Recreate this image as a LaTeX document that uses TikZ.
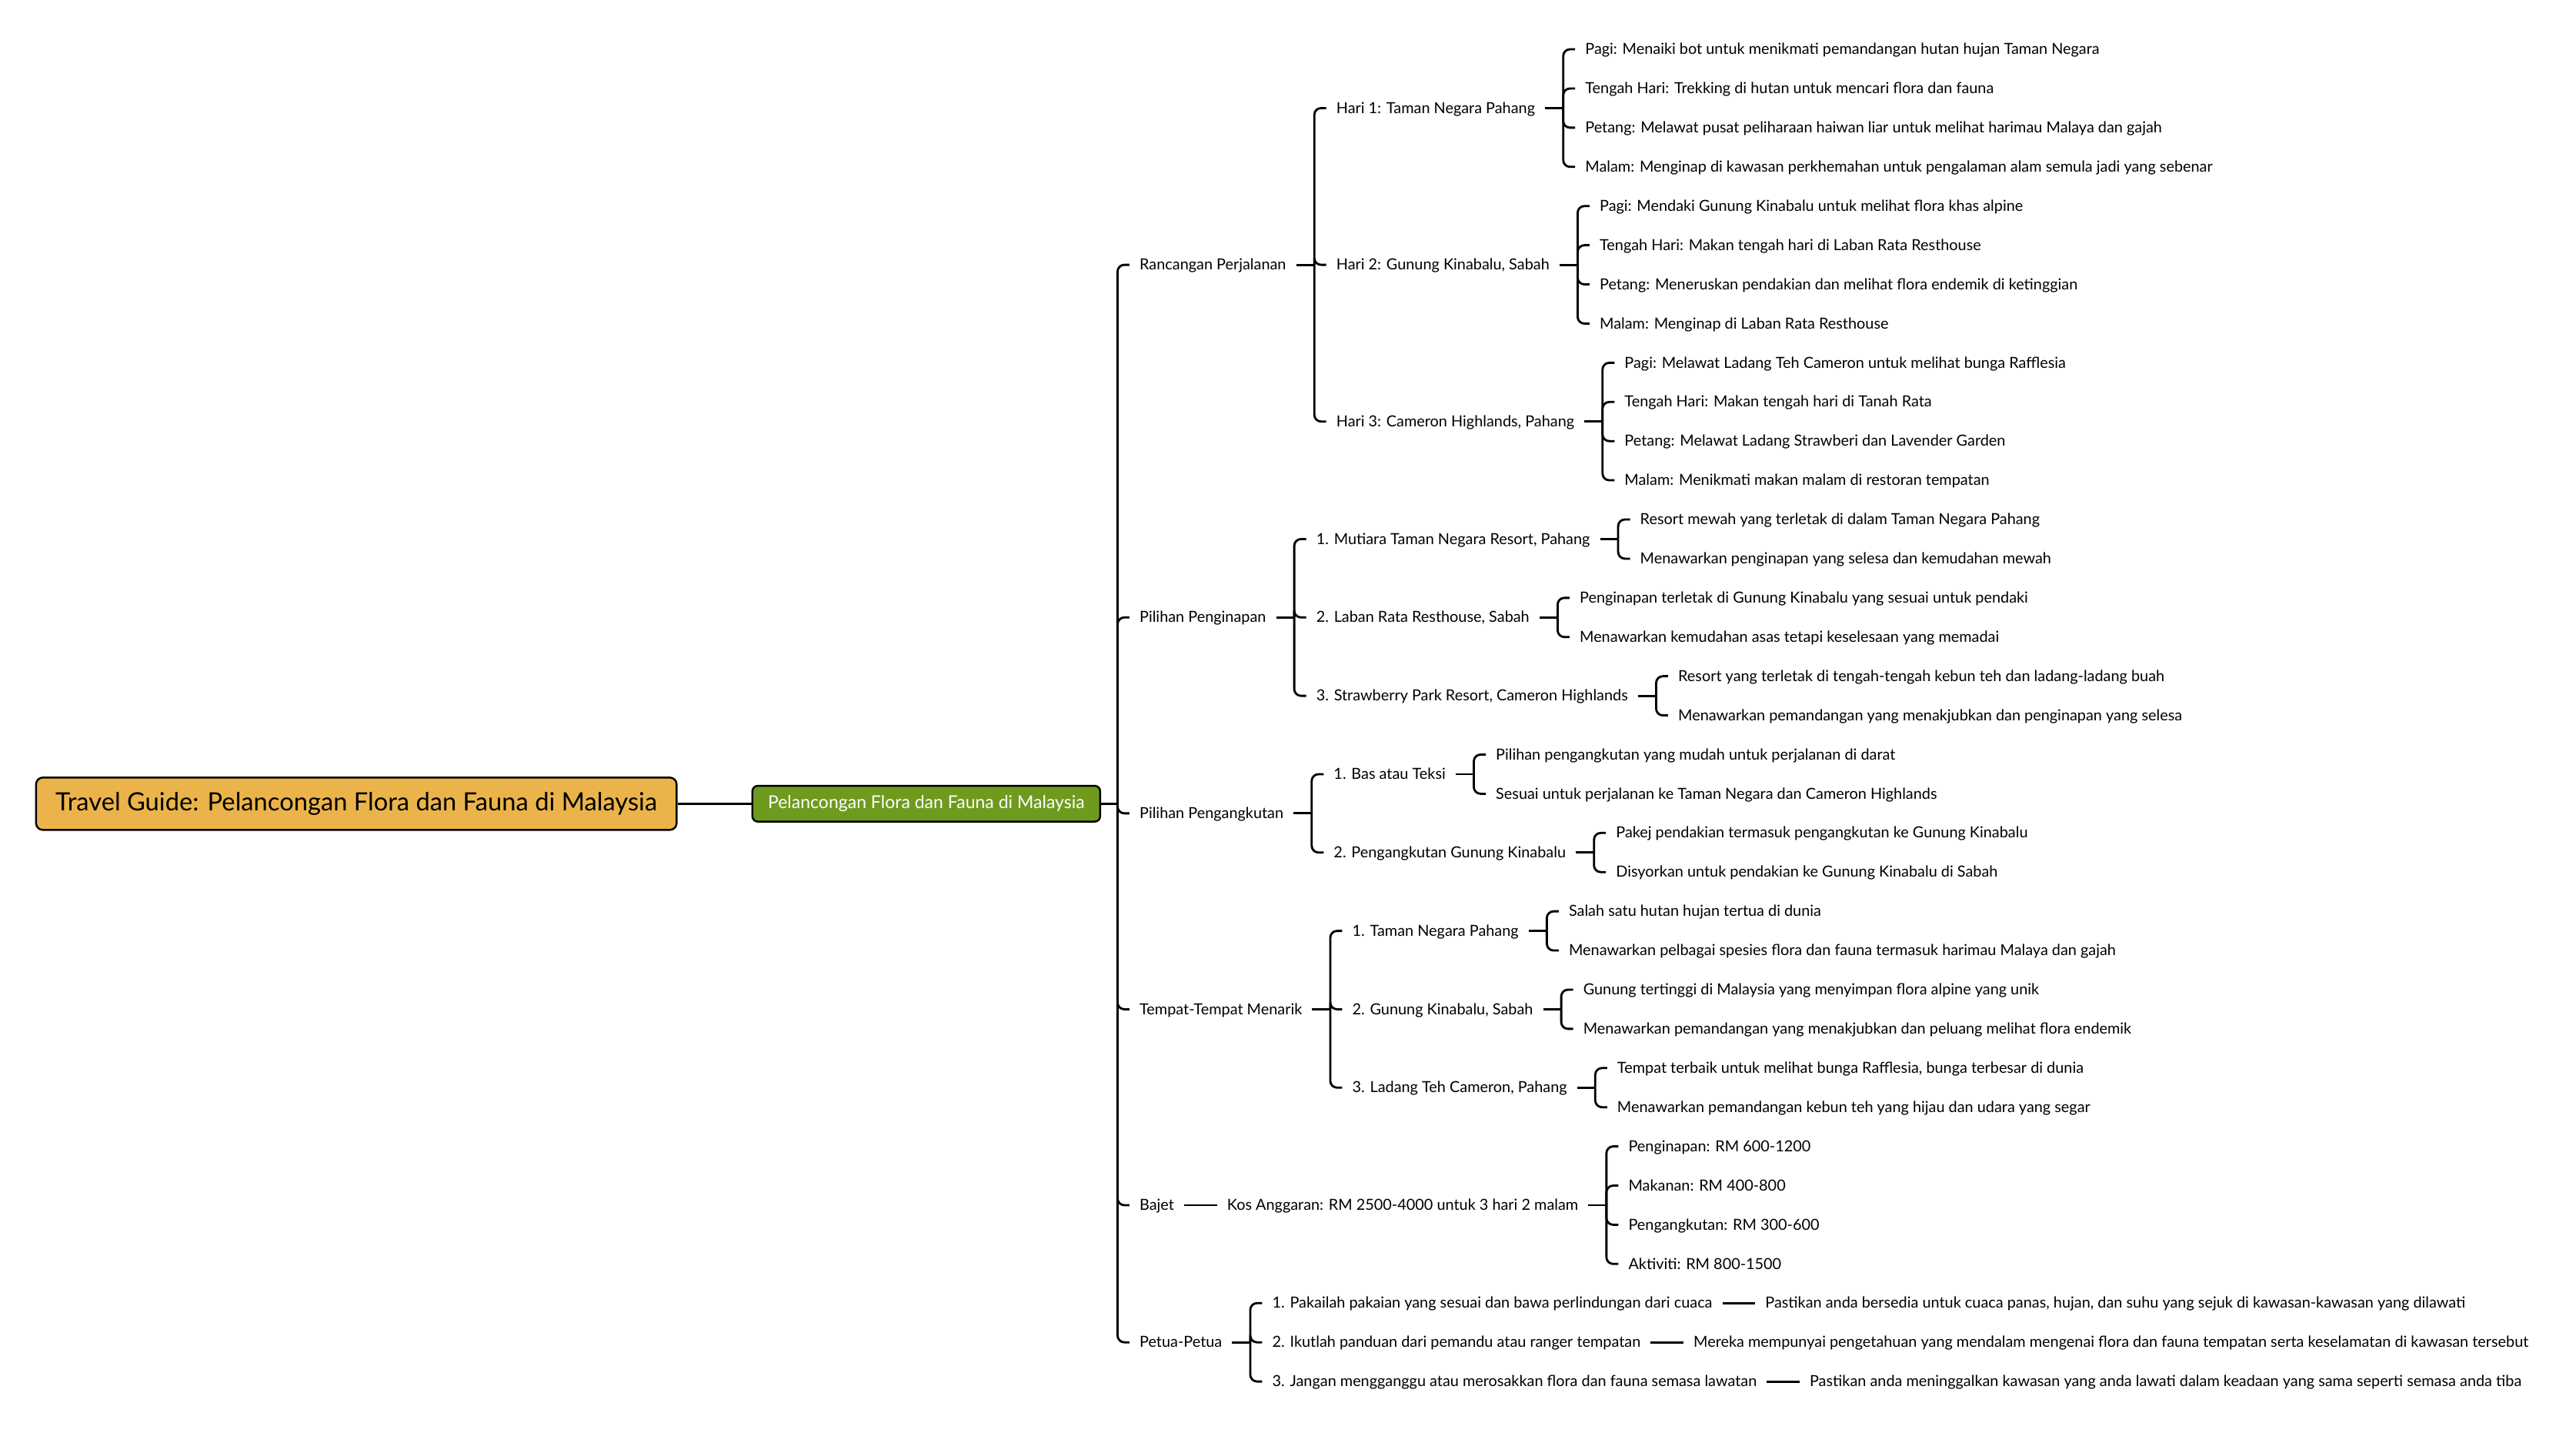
\documentclass[tikz,border=0pt]{standalone}
\usepackage{fontspec}
\setmainfont{Lato}
\usepackage{tikz}
\usetikzlibrary{positioning,calc}
\usepackage{xcolor}
\definecolor{rootorange}{HTML}{EBB44A}
\definecolor{topicgreen}{HTML}{6E9B1E}
\tikzset{
    rootbox/.style={rectangle, rounded corners=5pt, draw=black, line width=1.4pt, fill=rootorange, minimum width=166.5mm, minimum height=13.6mm, font=\fontsize{18.6}{22}\selectfont},
    mainbox/.style={rectangle, rounded corners=4pt, draw=black, line width=1.4pt, fill=topicgreen, text=white, minimum width=90.4mm, minimum height=9.3mm, font=\fontsize{13.1}{15}\selectfont},
    mmtext/.style={anchor=west, inner xsep=7.3pt, inner ysep=0pt, text height=9.3pt, text depth=1.7pt, font=\fontsize{11.3}{13}\selectfont},
    mmitem/.style={mmtext, xshift=3.1mm},
    stub/.style={line width=1.6pt, black},
    link/.style={line width=1.6pt, black, rounded corners=5pt},
}
\begin{document}
\begin{tikzpicture}[x=0.42704mm, y=-0.42704mm]
    \useasboundingbox (0,0) rectangle (1568,878.1);

    % Central topic
    \node[rootbox] (root) at (216.9,489.1) {Travel Guide: Pelancongan Flora dan Fauna di Malaysia};
    \node[mainbox, right=19.2mm of root] (pfm) {Pelancongan Flora dan Fauna di Malaysia};
    \draw[stub] (root) -- (pfm);
    \coordinate (b0) at ($(pfm.east)+(10,0)$);
    \draw[stub] (pfm) -- (b0);

    % Main branches
    \node[mmitem] (rp) at (b0 |- 0,161.15) {Rancangan Perjalanan};
    \node[mmitem] (pp) at (b0 |- 0,375.74) {Pilihan Penginapan};
    \node[mmitem] (pa) at (b0 |- 0,494.96) {Pilihan Pengangkutan};
    \node[mmitem] (tm) at (b0 |- 0,614.18) {Tempat-Tempat Menarik};
    \node[mmitem] (bj) at (b0 |- 0,733.4) {Bajet};
    \node[mmitem] (pt) at (b0 |- 0,816.85) {Petua-Petua};
    \draw[link] (b0) |- (rp.west);
    \draw[link] (b0) |- (pp.west);
    \draw[link] (b0) |- (pa.west);
    \draw[link] (b0) |- (tm.west);
    \draw[link] (b0) |- (bj.west);
    \draw[link] (b0) |- (pt.west);

    % Rancangan Perjalanan
    \coordinate (brp) at ($(rp.east)+(11,0)$);
    \draw[stub] (rp) -- (brp);
    \node[mmitem] (h1) at (brp |- 0,65.77) {Hari 1: Taman Negara Pahang};
    \node[mmitem] (h2) at (brp |- 0,161.15) {Hari 2: Gunung Kinabalu, Sabah};
    \node[mmitem] (h3) at (brp |- 0,256.52) {Hari 3: Cameron Highlands, Pahang};
    \draw[link] (brp) |- (h1.west);
    \draw[link] (brp) |- (h2.west);
    \draw[link] (brp) |- (h3.west);

    % Hari 1
    \coordinate (bh1) at ($(h1.east)+(11,0)$);
    \draw[stub] (h1) -- (bh1);
    \node[mmitem] (h1a) at (bh1 |- 0,30) {Pagi: Menaiki bot untuk menikmati pemandangan hutan hujan Taman Negara};
    \node[mmitem] (h1b) at (bh1 |- 0,53.84) {Tengah Hari: Trekking di hutan untuk mencari flora dan fauna};
    \node[mmitem] (h1c) at (bh1 |- 0,77.69) {Petang: Melawat pusat peliharaan haiwan liar untuk melihat harimau Malaya dan gajah};
    \node[mmitem] (h1d) at (bh1 |- 0,101.53) {Malam: Menginap di kawasan perkhemahan untuk pengalaman alam semula jadi yang sebenar};
    \draw[link] (bh1) |- (h1a.west);
    \draw[link] (bh1) |- (h1b.west);
    \draw[link] (bh1) |- (h1c.west);
    \draw[link] (bh1) |- (h1d.west);

    % Hari 2
    \coordinate (bh2) at ($(h2.east)+(11,0)$);
    \draw[stub] (h2) -- (bh2);
    \node[mmitem] (h2a) at (bh2 |- 0,125.38) {Pagi: Mendaki Gunung Kinabalu untuk melihat flora khas alpine};
    \node[mmitem] (h2b) at (bh2 |- 0,149.22) {Tengah Hari: Makan tengah hari di Laban Rata Resthouse};
    \node[mmitem] (h2c) at (bh2 |- 0,173.06) {Petang: Meneruskan pendakian dan melihat flora endemik di ketinggian};
    \node[mmitem] (h2d) at (bh2 |- 0,196.91) {Malam: Menginap di Laban Rata Resthouse};
    \draw[link] (bh2) |- (h2a.west);
    \draw[link] (bh2) |- (h2b.west);
    \draw[link] (bh2) |- (h2c.west);
    \draw[link] (bh2) |- (h2d.west);

    % Hari 3
    \coordinate (bh3) at ($(h3.east)+(11,0)$);
    \draw[stub] (h3) -- (bh3);
    \node[mmitem] (h3a) at (bh3 |- 0,220.75) {Pagi: Melawat Ladang Teh Cameron untuk melihat bunga Rafflesia};
    \node[mmitem] (h3b) at (bh3 |- 0,244.6) {Tengah Hari: Makan tengah hari di Tanah Rata};
    \node[mmitem] (h3c) at (bh3 |- 0,268.44) {Petang: Melawat Ladang Strawberi dan Lavender Garden};
    \node[mmitem] (h3d) at (bh3 |- 0,292.28) {Malam: Menikmati makan malam di restoran tempatan};
    \draw[link] (bh3) |- (h3a.west);
    \draw[link] (bh3) |- (h3b.west);
    \draw[link] (bh3) |- (h3c.west);
    \draw[link] (bh3) |- (h3d.west);

    % Pilihan Penginapan
    \coordinate (bpp) at ($(pp.east)+(11,0)$);
    \draw[stub] (pp) -- (bpp);
    \node[mmitem] (ms) at (bpp |- 0,328.05) {1. Mutiara Taman Negara Resort, Pahang};
    \node[mmitem] (lr) at (bpp |- 0,375.74) {2. Laban Rata Resthouse, Sabah};
    \node[mmitem] (sp) at (bpp |- 0,423.43) {3. Strawberry Park Resort, Cameron Highlands};
    \draw[link] (bpp) |- (ms.west);
    \draw[link] (bpp) |- (lr.west);
    \draw[link] (bpp) |- (sp.west);

    \coordinate (bms) at ($(ms.east)+(11,0)$);
    \draw[stub] (ms) -- (bms);
    \node[mmitem] (msa) at (bms |- 0,316.13) {Resort mewah yang terletak di dalam Taman Negara Pahang};
    \node[mmitem] (msb) at (bms |- 0,339.97) {Menawarkan penginapan yang selesa dan kemudahan mewah};
    \draw[link] (bms) |- (msa.west);
    \draw[link] (bms) |- (msb.west);

    \coordinate (blr) at ($(lr.east)+(11,0)$);
    \draw[stub] (lr) -- (blr);
    \node[mmitem] (lra) at (blr |- 0,363.82) {Penginapan terletak di Gunung Kinabalu yang sesuai untuk pendaki};
    \node[mmitem] (lrb) at (blr |- 0,387.66) {Menawarkan kemudahan asas tetapi keselesaan yang memadai};
    \draw[link] (blr) |- (lra.west);
    \draw[link] (blr) |- (lrb.west);

    \coordinate (bsp) at ($(sp.east)+(11,0)$);
    \draw[stub] (sp) -- (bsp);
    \node[mmitem] (spa) at (bsp |- 0,411.5) {Resort yang terletak di tengah-tengah kebun teh dan ladang-ladang buah};
    \node[mmitem] (spb) at (bsp |- 0,435.35) {Menawarkan pemandangan yang menakjubkan dan penginapan yang selesa};
    \draw[link] (bsp) |- (spa.west);
    \draw[link] (bsp) |- (spb.west);

    % Pilihan Pengangkutan
    \coordinate (bpa) at ($(pa.east)+(11,0)$);
    \draw[stub] (pa) -- (bpa);
    \node[mmitem] (bt) at (bpa |- 0,471.12) {1. Bas atau Teksi};
    \node[mmitem] (gk) at (bpa |- 0,518.8) {2. Pengangkutan Gunung Kinabalu};
    \draw[link] (bpa) |- (bt.west);
    \draw[link] (bpa) |- (gk.west);

    \coordinate (bbt) at ($(bt.east)+(11,0)$);
    \draw[stub] (bt) -- (bbt);
    \node[mmitem] (bta) at (bbt |- 0,459.19) {Pilihan pengangkutan yang mudah untuk perjalanan di darat};
    \node[mmitem] (btb) at (bbt |- 0,483.04) {Sesuai untuk perjalanan ke Taman Negara dan Cameron Highlands};
    \draw[link] (bbt) |- (bta.west);
    \draw[link] (bbt) |- (btb.west);

    \coordinate (bgk) at ($(gk.east)+(11,0)$);
    \draw[stub] (gk) -- (bgk);
    \node[mmitem] (gka) at (bgk |- 0,506.88) {Pakej pendakian termasuk pengangkutan ke Gunung Kinabalu};
    \node[mmitem] (gkb) at (bgk |- 0,530.72) {Disyorkan untuk pendakian ke Gunung Kinabalu di Sabah};
    \draw[link] (bgk) |- (gka.west);
    \draw[link] (bgk) |- (gkb.west);

    % Tempat-Tempat Menarik
    \coordinate (btm) at ($(tm.east)+(11,0)$);
    \draw[stub] (tm) -- (btm);
    \node[mmitem] (tn) at (btm |- 0,566.49) {1. Taman Negara Pahang};
    \node[mmitem] (kb) at (btm |- 0,614.18) {2. Gunung Kinabalu, Sabah};
    \node[mmitem] (lt) at (btm |- 0,661.87) {3. Ladang Teh Cameron, Pahang};
    \draw[link] (btm) |- (tn.west);
    \draw[link] (btm) |- (kb.west);
    \draw[link] (btm) |- (lt.west);

    \coordinate (btn) at ($(tn.east)+(11,0)$);
    \draw[stub] (tn) -- (btn);
    \node[mmitem] (tna) at (btn |- 0,554.57) {Salah satu hutan hujan tertua di dunia};
    \node[mmitem] (tnb) at (btn |- 0,578.41) {Menawarkan pelbagai spesies flora dan fauna termasuk harimau Malaya dan gajah};
    \draw[link] (btn) |- (tna.west);
    \draw[link] (btn) |- (tnb.west);

    \coordinate (bkb) at ($(kb.east)+(11,0)$);
    \draw[stub] (kb) -- (bkb);
    \node[mmitem] (kba) at (bkb |- 0,602.26) {Gunung tertinggi di Malaysia yang menyimpan flora alpine yang unik};
    \node[mmitem] (kbb) at (bkb |- 0,626.1) {Menawarkan pemandangan yang menakjubkan dan peluang melihat flora endemik};
    \draw[link] (bkb) |- (kba.west);
    \draw[link] (bkb) |- (kbb.west);

    \coordinate (blt) at ($(lt.east)+(11,0)$);
    \draw[stub] (lt) -- (blt);
    \node[mmitem] (lta) at (blt |- 0,649.94) {Tempat terbaik untuk melihat bunga Rafflesia, bunga terbesar di dunia};
    \node[mmitem] (ltb) at (blt |- 0,673.79) {Menawarkan pemandangan kebun teh yang hijau dan udara yang segar};
    \draw[link] (blt) |- (lta.west);
    \draw[link] (blt) |- (ltb.west);

    % Bajet
    \node[mmtext, right=8.5mm of bj] (kos) {Kos Anggaran: RM 2500-4000 untuk 3 hari 2 malam};
    \draw[stub] (bj) -- (kos);
    \coordinate (bkos) at ($(kos.east)+(11,0)$);
    \draw[stub] (kos) -- (bkos);
    \node[mmitem] (ka) at (bkos |- 0,697.63) {Penginapan: RM 600-1200};
    \node[mmitem] (kb2) at (bkos |- 0,721.48) {Makanan: RM 400-800};
    \node[mmitem] (kc) at (bkos |- 0,745.32) {Pengangkutan: RM 300-600};
    \node[mmitem] (kd) at (bkos |- 0,769.16) {Aktiviti: RM 800-1500};
    \draw[link] (bkos) |- (ka.west);
    \draw[link] (bkos) |- (kb2.west);
    \draw[link] (bkos) |- (kc.west);
    \draw[link] (bkos) |- (kd.west);

    % Petua-Petua
    \coordinate (bpt) at ($(pt.east)+(11,0)$);
    \draw[stub] (pt) -- (bpt);
    \node[mmitem] (pt1) at (bpt |- 0,793.01) {1. Pakailah pakaian yang sesuai dan bawa perlindungan dari cuaca};
    \node[mmitem] (pt2) at (bpt |- 0,816.85) {2. Ikutlah panduan dari pemandu atau ranger tempatan};
    \node[mmitem] (pt3) at (bpt |- 0,840.7) {3. Jangan mengganggu atau merosakkan flora dan fauna semasa lawatan};
    \draw[link] (bpt) |- (pt1.west);
    \draw[link] (bpt) |- (pt2.west);
    \draw[link] (bpt) |- (pt3.west);
    \node[mmtext, right=8.5mm of pt1] (pt1x) {Pastikan anda bersedia untuk cuaca panas, hujan, dan suhu yang sejuk di kawasan-kawasan yang dilawati};
    \node[mmtext, right=8.5mm of pt2] (pt2x) {Mereka mempunyai pengetahuan yang mendalam mengenai flora dan fauna tempatan serta keselamatan di kawasan tersebut};
    \node[mmtext, right=8.5mm of pt3] (pt3x) {Pastikan anda meninggalkan kawasan yang anda lawati dalam keadaan yang sama seperti semasa anda tiba};
    \draw[stub] (pt1) -- (pt1x);
    \draw[stub] (pt2) -- (pt2x);
    \draw[stub] (pt3) -- (pt3x);
\end{tikzpicture}
\end{document}
